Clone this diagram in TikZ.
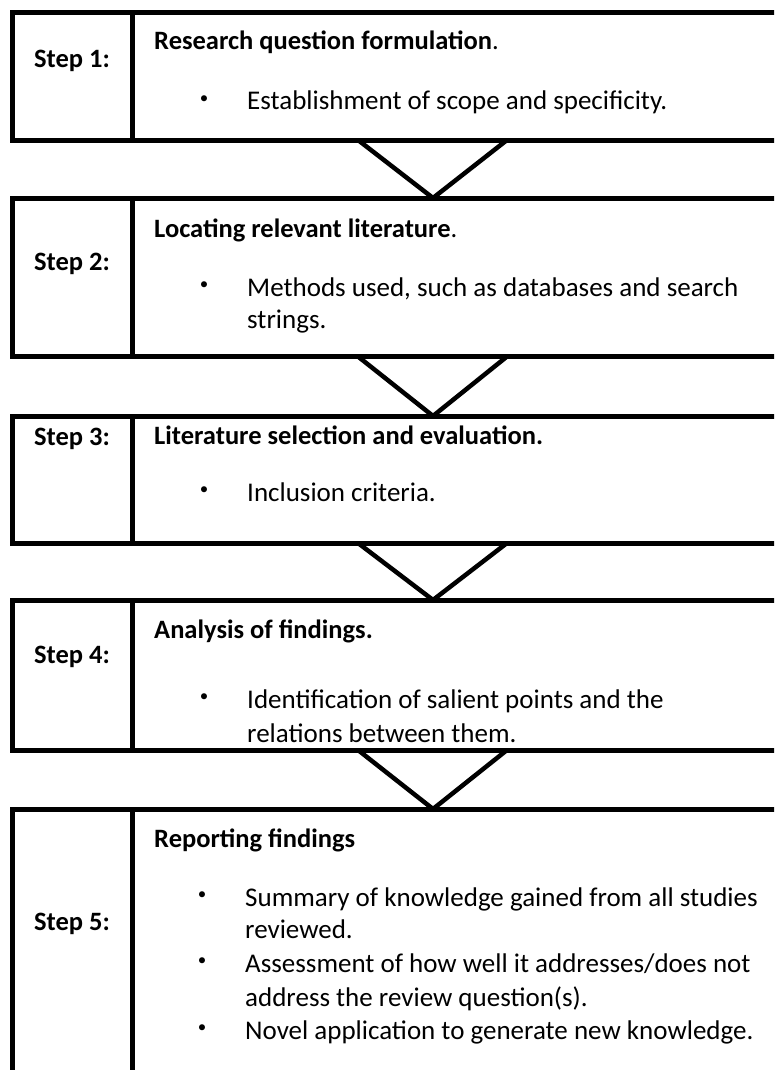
\documentclass[tikz,border=0pt]{standalone}
\usepackage{fontspec}
\setmainfont{Carlito}
\begin{document}
\begin{tikzpicture}[x=1pt,y=-1pt,
  stepbox/.style={draw=black,line width=5pt,rectangle,inner sep=0pt,outer sep=0pt,
    minimum width=790pt,anchor=north west},
  divider/.style={line width=5pt},
  chevron/.style={line width=4.5pt,line join=miter},
  steplabel/.style={font=\fontsize{26.5}{33}\selectfont\bfseries,anchor=base,inner sep=0pt},
  heading/.style={font=\fontsize{26.5}{33}\selectfont\bfseries,anchor=base west,inner sep=0pt},
  bodytext/.style={font=\fontsize{27}{33}\selectfont,anchor=base west,inner sep=0pt},
  bulletmark/.style={font=\fontsize{17}{20}\selectfont,anchor=center,inner sep=0pt}]
\useasboundingbox (0,0) rectangle (774,1070);
\clip (0,0) rectangle (774,1070);
\fill[white] (0,0) rectangle (774,1070);

% the five step boxes
\node[stepbox,minimum height=127.5pt] (b1) at (12,12.5) {};
\node[stepbox,minimum height=158.5pt] (b2) at (12,198) {};
\node[stepbox,minimum height=127pt]   (b3) at (12,416) {};
\node[stepbox,minimum height=150pt]   (b4) at (12,600) {};
\node[stepbox,minimum height=300pt]   (b5) at (12,809) {};

% column dividers
\foreach \b in {b1,b2,b3,b4,b5}
  \draw[divider] ([xshift=120pt]\b.north west) -- ([xshift=120pt]\b.south west);

% chevrons between consecutive steps
\foreach \a/\b in {b1/b2,b2/b3,b3/b4,b4/b5}
  \draw[chevron] ([xshift=346pt]\a.south west) -- ([xshift=421pt]\b.north west)
                 -- ([xshift=495pt]\a.south west);

% step labels
\node[steplabel] (s1) at (72,67.7) {Step 1:};
\node[steplabel] (s2) at (72,270) {Step 2:};
\node[steplabel] (s3) at (72,445) {Step 3:};
\node[steplabel] (s4) at (72,663) {Step 4:};
\node[steplabel] (s5) at (72,930) {Step 5:};

% step 1
\node[heading] (h1) at (154,49.5) {Research question formulation\mdseries.};
\node[bulletmark] (d11) at (204,99.5) {•};
\node[bodytext] (t11) at (247,110) {Establishment of scope and specificity.};

% step 2
\node[heading] (h2) at (154,237) {Locating relevant literature\mdseries.};
\node[bulletmark] (d21) at (204,285.5) {•};
\node[bodytext] (t21) at (247,296) {Methods used, such as databases and search};
\node[bodytext] (t22) at (247,328) {strings.};

% step 3
\node[heading] (h3) at (154,444) {Literature selection and evaluation.};
\node[bulletmark] (d31) at (204,490.5) {•};
\node[bodytext] (t31) at (247,501) {Inclusion criteria.};

% step 4
\node[heading] (h4) at (154,638) {Analysis of findings.};
\node[bulletmark] (d41) at (204,697.5) {•};
\node[bodytext] (t41) at (247,708) {Identification of salient points and the};
\node[bodytext] (t42) at (247,742) {relations between them.};

% step 5
\node[heading] (h5) at (154,847) {Reporting findings};
\node[bulletmark] (d51) at (202,895.5) {•};
\node[bodytext] (t51) at (245,906) {Summary of knowledge gained from all studies};
\node[bodytext] (t52) at (245,938) {reviewed.};
\node[bulletmark] (d52) at (202,961.5) {•};
\node[bodytext] (t53) at (245,972) {Assessment of how well it addresses/does not};
\node[bodytext] (t54) at (245,1006) {address the review question(s).};
\node[bulletmark] (d53) at (202,1028.5) {•};
\node[bodytext] (t55) at (245,1039) {Novel application to generate new knowledge.};
\end{tikzpicture}
\end{document}
